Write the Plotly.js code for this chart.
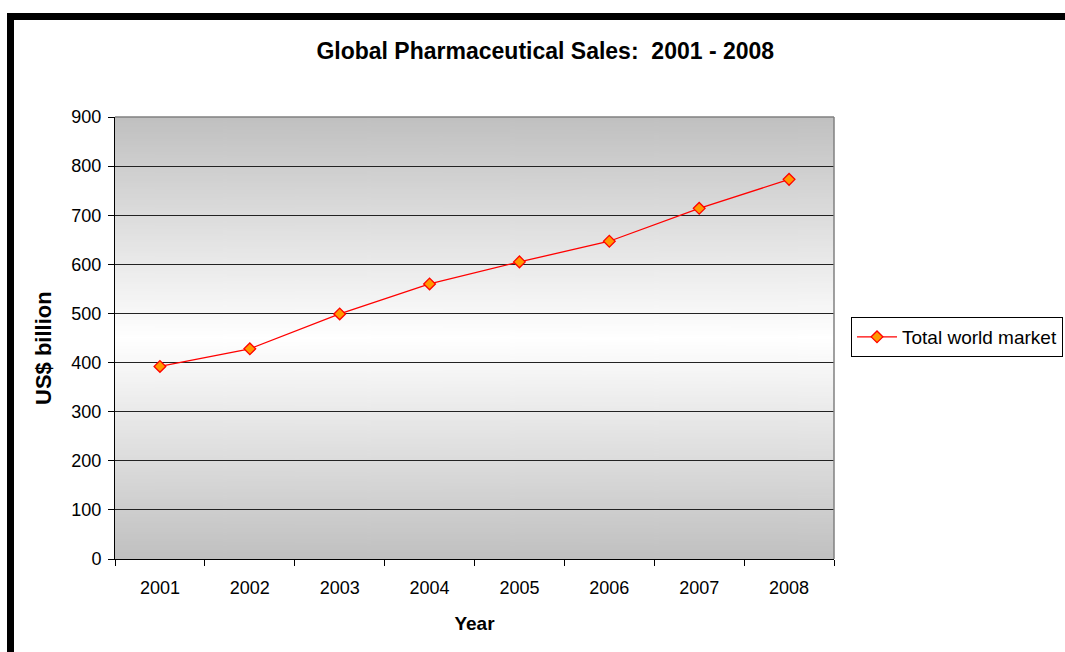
<!DOCTYPE html>
<html>
<head>
<meta charset="utf-8">
<script src="https://cdn.plot.ly/plotly-3.0.1.min.js"></script>
<style>
  html, body { margin: 0; padding: 0; background: #fff; overflow: hidden; }
  #wrap { position: relative; width: 1065px; height: 652px; }
  #chart { width: 1065px; height: 652px; }
  #frame { position: absolute; left: 7px; top: 13px; width: 1100px; height: 700px;
           border-top: 7px solid #000; border-left: 7px solid #000; pointer-events: none; }
</style>
</head>
<body>
<div id="wrap">
  <div id="chart"></div>
  <div id="frame"></div>
</div>
<script>
const years = ['2001', '2002', '2003', '2004', '2005', '2006', '2007', '2008'];
const sales = [392, 428, 499, 560, 605, 647, 714, 773];
const seriesName = 'Total world market';
const yTicks = [0, 100, 200, 300, 400, 500, 600, 700, 800, 900];

// gradient background image for plot area
const cv = document.createElement('canvas');
cv.width = 10; cv.height = 400;
const ctx = cv.getContext('2d');
const g = ctx.createLinearGradient(0, 0, 0, 400);
g.addColorStop(0, '#c0c0c0');
g.addColorStop(0.5, '#ffffff');
g.addColorStop(1, '#c0c0c0');
ctx.fillStyle = g;
ctx.fillRect(0, 0, 10, 400);
const bg = cv.toDataURL();

const font = 'Liberation Sans, Arial, sans-serif';

const trace = {
  x: years,
  y: sales,
  type: 'scatter',
  mode: 'lines+markers',
  name: seriesName,
  line: { color: '#ff0000', width: 1.3 },
  marker: { symbol: 'diamond', size: 9, color: '#ff9900', line: { color: '#ff0000', width: 1.3 } }
};

const layout = {
  width: 1065,
  height: 652,
  margin: { l: 115, r: 231, t: 117, b: 93, autoexpand: false },
  paper_bgcolor: '#ffffff',
  plot_bgcolor: 'rgba(0,0,0,0)',
  showlegend: true,
  title: {
    text: '<b>Global Pharmaceutical Sales:  2001 - 2008</b>',
    font: { family: font, size: 23, color: '#000' },
    x: 0.512, xref: 'container', xanchor: 'center',
    y: 1 - 51 / 652, yref: 'container', yanchor: 'middle'
  },
  xaxis: {
    type: 'category',
    range: [-0.5, 7.5],
    tickson: 'boundaries',
    ticks: 'outside',
    ticklen: 6,
    tickcolor: '#000',
    ticklabelstandoff: 12,
    showgrid: false,
    showline: true,
    linecolor: '#000',
    linewidth: 1,
    mirror: false,
    tickfont: { family: font, size: 18, color: '#000' },
    title: { text: '<b>Year</b>', font: { family: font, size: 19, color: '#000' }, standoff: 20 },
    automargin: false,
    fixedrange: true
  },
  yaxis: {
    range: [0, 900],
    tickvals: yTicks,
    ticktext: yTicks.map(String),
    ticks: 'outside',
    ticklen: 6,
    tickcolor: '#000',
    ticklabelstandoff: 3,
    showgrid: true,
    gridcolor: '#222222',
    gridwidth: 1,
    zeroline: false,
    showline: true,
    linecolor: '#000',
    linewidth: 1,
    tickfont: { family: font, size: 18, color: '#000' },
    automargin: false,
    fixedrange: true
  },
  annotations: [{
    text: '<b>US$ billion</b>',
    textangle: -90,
    xref: 'paper', yref: 'paper',
    x: (43 - 115) / 719, y: (559 - 348) / 442,
    xanchor: 'center', yanchor: 'middle',
    showarrow: false,
    font: { family: font, size: 22, color: '#000' }
  }],
  legend: {
    xref: 'container', yref: 'container',
    x: 851 / 1065, xanchor: 'left',
    y: 1 - 337 / 652, yanchor: 'middle',
    bordercolor: '#000', borderwidth: 1,
    bgcolor: '#ffffff',
    font: { family: font, size: 19, color: '#000' },
    itemwidth: 40
  },
  images: [{
    source: bg, xref: 'paper', yref: 'paper', x: 0, y: 1, sizex: 1, sizey: 1,
    xanchor: 'left', yanchor: 'top', sizing: 'stretch', layer: 'below'
  }],
  shapes: [
    { type: 'line', xref: 'paper', yref: 'paper', x0: 0, x1: 1, y0: 1, y1: 1, line: { color: '#808080', width: 1.5 } },
    { type: 'line', xref: 'paper', yref: 'paper', x0: 1, x1: 1, y0: 0, y1: 1, line: { color: '#808080', width: 1.5 } }
  ]
};

Plotly.newPlot('chart', [trace], layout, { displayModeBar: false, staticPlot: true });
</script>
</body>
</html>
